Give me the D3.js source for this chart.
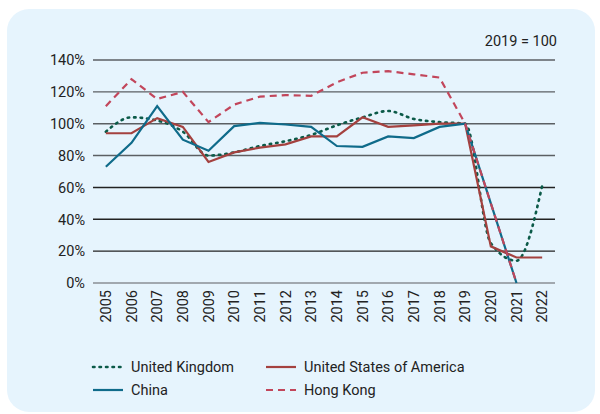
<!DOCTYPE html>
<html>
<head>
<meta charset="utf-8">
<script src="https://cdn.jsdelivr.net/npm/d3@7"></script>
<style>
  body { margin: 0; background: #ffffff; }
  text { font-family: Roboto, "Open Sans", sans-serif; fill: #222; }
</style>
</head>
<body>
<div id="chart"></div>
<script>
var years = ["2005","2006","2007","2008","2009","2010","2011","2012","2013","2014","2015","2016","2017","2018","2019","2020","2021","2022"];
var ukValues    = [95, 104, 102, 95, 80, 82, 86, 89, 93, 99, 104, 108, 103, 101, 100, 25, 14, 61];
var usaValues   = [94, 94, 103.5, 98, 76, 82, 85, 87, 92, 92, 104, 98, 99, 100, 100, 23, 16, 16];
var chinaValues = [73, 88, 111, 90, 83, 98.5, 100.5, 99.5, 98, 86, 85.5, 92, 91, 98, 100, 50, 0, null];
var hkValues    = [111, 128, 115.5, 120, 101, 112, 117, 118, 117.5, 126, 132, 133, 131, 129, 100, 50, 0, null];
var yTicks = [0, 20, 40, 60, 80, 100, 120, 140];

var series = [
  {name: "United Kingdom", values: ukValues, color: "#0b5a48", dash: "1.5,5", width: 2.6, curve: d3.curveMonotoneX, cap: "round"},
  {name: "United States of America", values: usaValues, color: "#a4413f", dash: null, width: 2.2, curve: d3.curveLinear, cap: "butt"},
  {name: "China", values: chinaValues, color: "#0f6b8a", dash: null, width: 2.2, curve: d3.curveLinear, cap: "butt"},
  {name: "Hong Kong", values: hkValues, color: "#c2465b", dash: "7,5", width: 2.2, curve: d3.curveLinear, cap: "butt"}
];

var width = 600, height = 414;
var svg = d3.select("#chart").append("svg")
  .attr("width", width)
  .attr("height", height);

// background panel
svg.append("rect")
  .attr("x", 7).attr("y", 9)
  .attr("width", 588).attr("height", 403)
  .attr("rx", 22)
  .attr("fill", "#e6f4fd");

var x = d3.scalePoint().domain(years).range([93, 555]).padding(0.5);
var y = d3.scaleLinear().domain([0, 140]).range([283, 60]);

// gridlines
svg.append("g")
  .selectAll("line")
  .data(yTicks)
  .enter().append("line")
    .attr("x1", 93).attr("x2", 555)
    .attr("y1", function(d){ return y(d); })
    .attr("y2", function(d){ return y(d); })
    .attr("stroke", function(d){ return d == 0 ? "#8a8f94" : (d >= 80 ? "#5b5f63" : "#222"); })
    .attr("stroke-width", 1.4);

// y labels
svg.append("g")
  .selectAll("text")
  .data(yTicks)
  .enter().append("text")
    .attr("x", 85)
    .attr("y", function(d){ return y(d); })
    .attr("dy", "0.36em")
    .attr("text-anchor", "end")
    .style("font-size", "14.5px")
    .text(function(d){ return d + "%"; });

// x labels
svg.append("g")
  .selectAll("text")
  .data(years)
  .enter().append("text")
    .attr("transform", function(d){ return "translate(" + (x(d) + 5) + ",290) rotate(-90)"; })
    .attr("text-anchor", "end")
    .style("font-size", "14.5px")
    .text(function(d){ return d; });

svg.append("text")
  .attr("x", 557).attr("y", 46)
  .attr("text-anchor", "end")
  .style("font-size", "14.5px")
  .text("2019 = 100");

// lines
series.forEach(function(s) {
  var line = d3.line()
    .defined(function(d){ return d != null; })
    .x(function(d, i){ return x(years[i]); })
    .y(function(d){ return y(d); })
    .curve(s.curve);
  svg.append("path")
    .datum(s.values)
    .attr("d", line)
    .attr("fill", "none")
    .attr("stroke", s.color)
    .attr("stroke-width", s.width)
    .attr("stroke-linecap", s.cap)
    .attr("stroke-dasharray", s.dash);
});

// legend
var legendPos = [[93, 367], [266, 367], [93, 390], [266, 390]];
series.forEach(function(s, i) {
  var p = legendPos[i];
  svg.append("line")
    .attr("x1", p[0]).attr("x2", p[0] + 30)
    .attr("y1", p[1]).attr("y2", p[1])
    .attr("stroke", s.color)
    .attr("stroke-width", s.width)
    .attr("stroke-linecap", s.cap)
    .attr("stroke-dasharray", s.dash);
  svg.append("text")
    .attr("x", p[0] + 38)
    .attr("y", p[1])
    .attr("dy", "0.35em")
    .style("font-size", "14.5px")
    .text(s.name);
});
</script>
</body>
</html>
